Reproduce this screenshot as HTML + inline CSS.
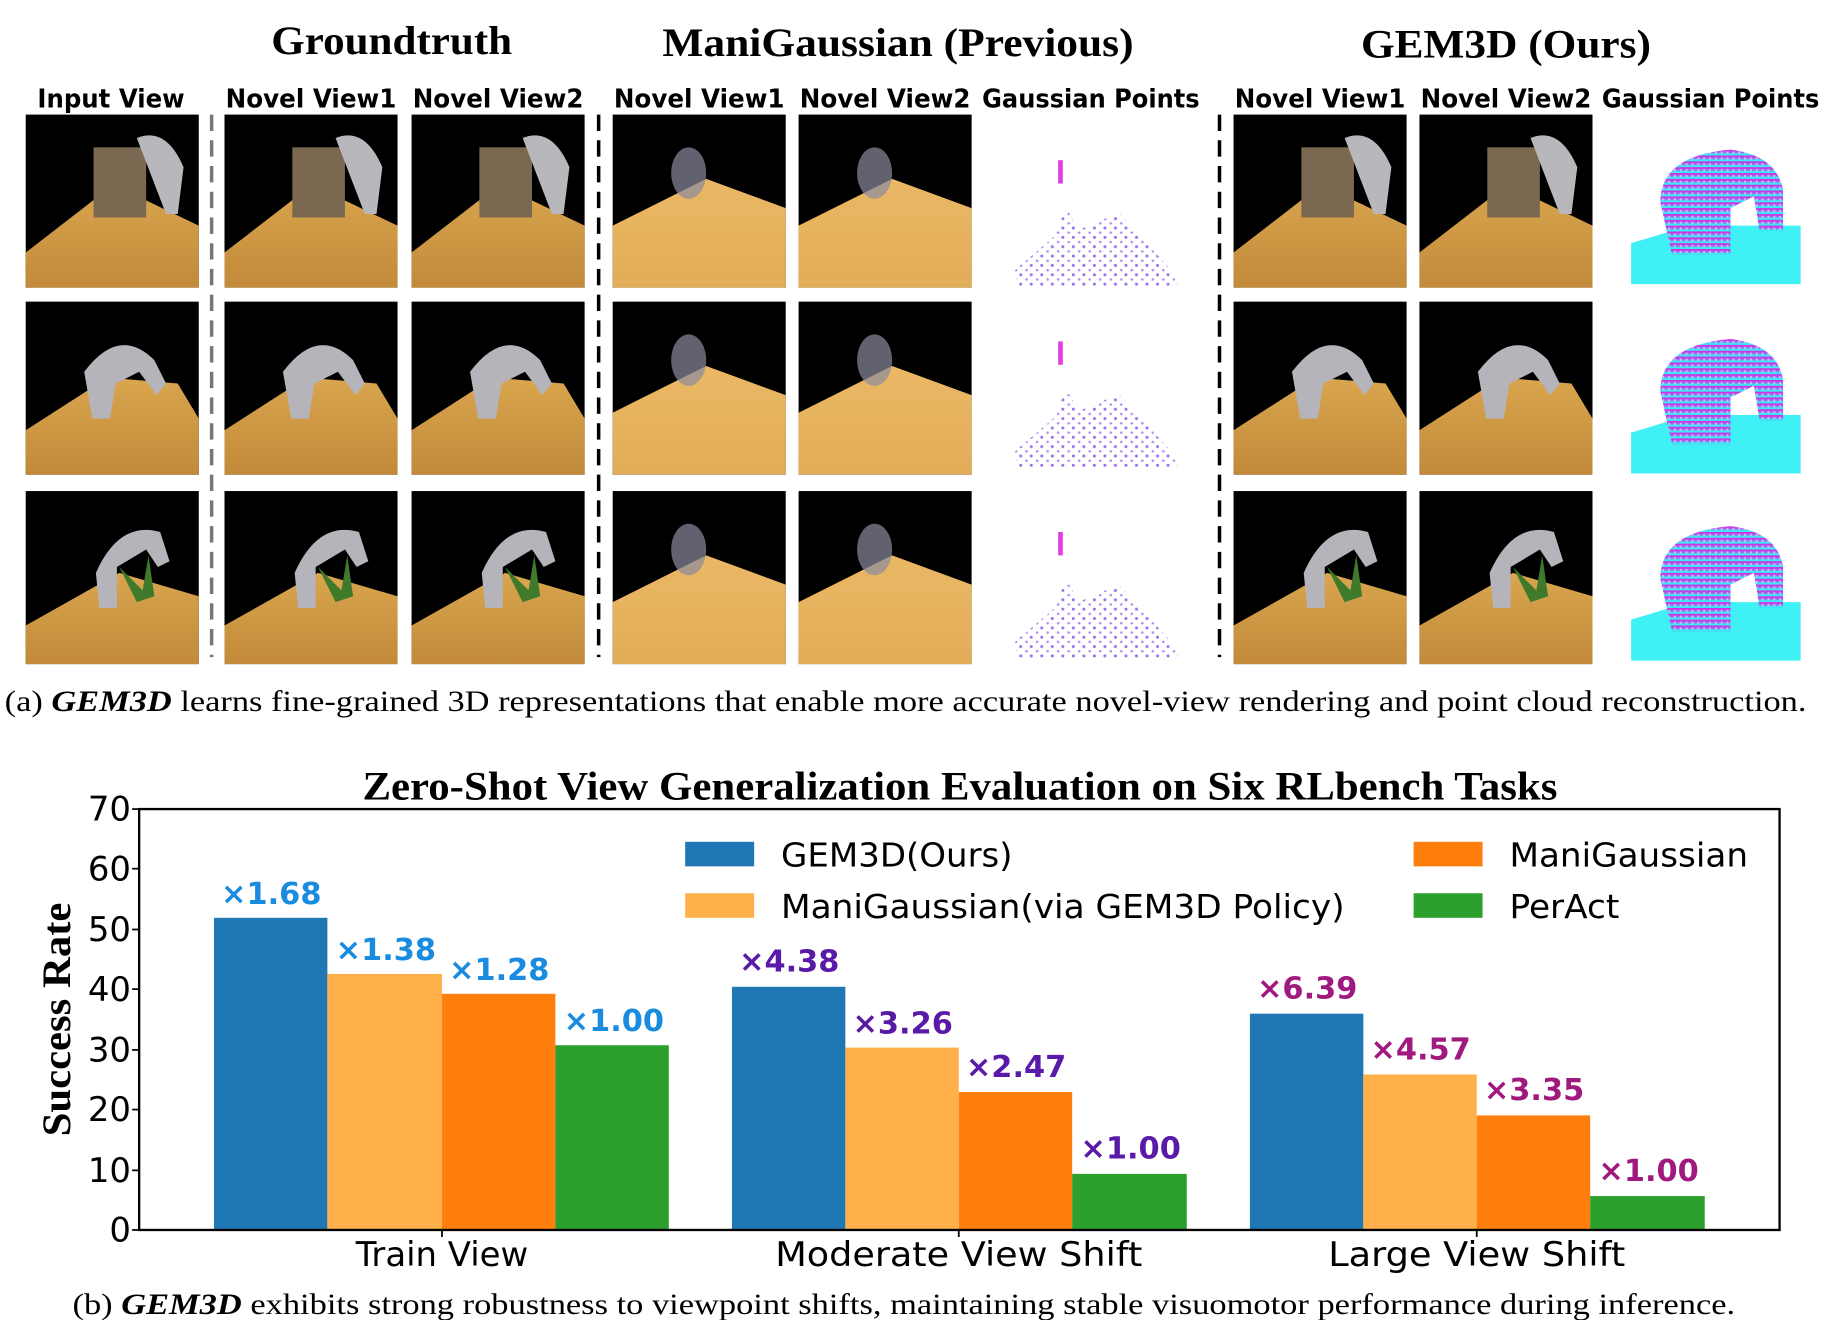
<!DOCTYPE html>
<html><head><meta charset="utf-8"><style>
html,body{margin:0;padding:0;background:#fff;}
svg{display:block;}
.ser{font-family:"Liberation Serif",serif;}
.san{font-family:"DejaVu Sans","Liberation Sans",sans-serif;}
</style></head><body>
<svg width="1824" height="1320" viewBox="0 0 1560 1129" preserveAspectRatio="none" xmlns="http://www.w3.org/2000/svg">
<defs>
<linearGradient id="tan" x1="0" y1="0" x2="0" y2="1"><stop offset="0" stop-color="#d9a54e"/><stop offset="1" stop-color="#c28a3a"/></linearGradient>
<linearGradient id="tanb" x1="0" y1="0" x2="0" y2="1"><stop offset="0" stop-color="#eab865"/><stop offset="1" stop-color="#e2ad58"/></linearGradient>
<linearGradient id="cloud" x1="0" y1="0" x2="0" y2="1"><stop offset="0" stop-color="#e020e0"/><stop offset="0.5" stop-color="#9a6cf0"/><stop offset="0.75" stop-color="#40e8f5"/><stop offset="1" stop-color="#30f0f5"/></linearGradient>
<pattern id="dots" width="9" height="8" patternUnits="userSpaceOnUse"><circle cx="2" cy="2" r="1.3" fill="#9a70ee"/><circle cx="7" cy="6" r="1.1" fill="#b08cf2"/></pattern>
<pattern id="cdots" width="5" height="5" patternUnits="userSpaceOnUse"><rect width="5" height="5" fill="url(#cloud)"/><circle cx="2.5" cy="2.5" r="1" fill="#fff" opacity="0.5"/></pattern>
<g id="gt"><rect width="148" height="148" fill="#000"/><polygon points="0,148 0,118 75,60 148,95 148,148" fill="url(#tan)"/><rect x="58" y="28" width="45" height="60" fill="#7a6850"/><path d="M95,20 q25,-10 40,25 l-5,40 -10,0 z" fill="#b8b8bc"/></g>
<g id="gt2"><rect width="148" height="148" fill="#000"/><polygon points="0,148 0,110 70,65 130,70 148,100 148,148" fill="url(#tan)"/><path d="M50,60 q30,-40 60,-10 l10,20 -8,10 -15,-20 -20,10 -5,30 -15,0 z" fill="#b4b4ba"/></g>
<g id="gt3"><rect width="148" height="148" fill="#000"/><polygon points="0,148 0,115 80,70 148,90 148,148" fill="url(#tan)"/><path d="M60,70 q20,-45 55,-35 l8,25 -10,5 -10,-15 -25,15 0,35 -15,0 z" fill="#b4b4ba"/><path d="M95,95 l-15,-30 20,20 5,-30 5,35 z" fill="#3f7a2a"/></g>
<g id="bl"><rect width="148" height="148" fill="#000"/><polygon points="0,148 0,95 80,55 148,80 148,148" fill="url(#tanb)"/><ellipse cx="65" cy="50" rx="15" ry="22" fill="#8a8aa0" opacity="0.7"/></g>
<g id="pts"><polygon points="5,95 40,65 50,40 60,60 95,45 145,100 145,108 10,108" fill="url(#dots)"/><rect x="43" y="0" width="4" height="20" fill="#e040e0"/></g>
<g id="gc"><polygon points="0,95 50,80 145,80 145,130 0,130" fill="#3ff0f5"/><path d="M25,60 q0,-40 60,-45 q40,5 45,35 l0,35 -20,0 -5,-30 -20,10 0,40 -50,0 z" fill="url(#cdots)"/></g>
</defs>
<rect width="1560" height="1129" fill="#fff"/>
<g class="ser" font-weight="bold" font-size="34" text-anchor="middle" fill="#000" lengthAdjust="spacingAndGlyphs">
<text x="335" y="46" textLength="206" lengthAdjust="spacingAndGlyphs">Groundtruth</text><text x="768" y="48" textLength="403" lengthAdjust="spacingAndGlyphs">ManiGaussian (Previous)</text><text x="1288" y="49" textLength="248" lengthAdjust="spacingAndGlyphs">GEM3D (Ours)</text></g>
<g class="san" font-weight="bold" font-size="22" text-anchor="middle" fill="#000">
<text x="95" y="92" textLength="126" lengthAdjust="spacingAndGlyphs">Input View</text><text x="266" y="92" textLength="146" lengthAdjust="spacingAndGlyphs">Novel View1</text><text x="426" y="92" textLength="146" lengthAdjust="spacingAndGlyphs">Novel View2</text>
<text x="598" y="92" textLength="146" lengthAdjust="spacingAndGlyphs">Novel View1</text><text x="757" y="92" textLength="146" lengthAdjust="spacingAndGlyphs">Novel View2</text><text x="933" y="92" textLength="186" lengthAdjust="spacingAndGlyphs">Gaussian Points</text>
<text x="1129" y="92" textLength="146" lengthAdjust="spacingAndGlyphs">Novel View1</text><text x="1288" y="92" textLength="146" lengthAdjust="spacingAndGlyphs">Novel View2</text><text x="1463" y="92" textLength="186" lengthAdjust="spacingAndGlyphs">Gaussian Points</text></g>
<use href="#gt" x="22" y="98"/><use href="#gt" x="192" y="98"/><use href="#gt" x="352" y="98"/>
<use href="#bl" x="524" y="98"/><use href="#bl" x="683" y="98"/><use href="#pts" x="862" y="137"/>
<use href="#gt" x="1055" y="98"/><use href="#gt" x="1214" y="98"/><use href="#gc" x="1395" y="113"/>
<use href="#gt2" x="22" y="258"/><use href="#gt2" x="192" y="258"/><use href="#gt2" x="352" y="258"/>
<use href="#bl" x="524" y="258"/><use href="#bl" x="683" y="258"/><use href="#pts" x="862" y="292"/>
<use href="#gt2" x="1055" y="258"/><use href="#gt2" x="1214" y="258"/><use href="#gc" x="1395" y="275"/>
<use href="#gt3" x="22" y="420"/><use href="#gt3" x="192" y="420"/><use href="#gt3" x="352" y="420"/>
<use href="#bl" x="524" y="420"/><use href="#bl" x="683" y="420"/><use href="#pts" x="862" y="455"/>
<use href="#gt3" x="1055" y="420"/><use href="#gt3" x="1214" y="420"/><use href="#gc" x="1395" y="435"/>
<g stroke-width="3" stroke-dasharray="14,8"><line x1="181" y1="98" x2="181" y2="562" stroke="#777"/><line x1="512" y1="98" x2="512" y2="562" stroke="#000"/><line x1="1043" y1="98" x2="1043" y2="562" stroke="#000"/></g>
<text class="ser" x="4" y="608" font-size="25" textLength="1541" lengthAdjust="spacingAndGlyphs">(a) <tspan font-weight="bold" font-style="italic">GEM3D</tspan>  learns fine-grained 3D representations that enable more accurate novel-view rendering and point cloud reconstruction.</text>
<text class="ser" x="821" y="684" font-size="34" font-weight="bold" text-anchor="middle" textLength="1022" lengthAdjust="spacingAndGlyphs">Zero-Shot View Generalization Evaluation on Six RLbench Tasks</text>
<g>
<rect x="183" y="785" width="97" height="267" fill="#1f77b4"/><rect x="280" y="833" width="98" height="219" fill="#ffb04a"/><rect x="378" y="850" width="97" height="202" fill="#ff7f0e"/><rect x="475" y="894" width="97" height="158" fill="#2ca02c"/>
<rect x="626" y="844" width="97" height="208" fill="#1f77b4"/><rect x="723" y="896" width="97" height="156" fill="#ffb04a"/><rect x="820" y="934" width="97" height="118" fill="#ff7f0e"/><rect x="917" y="1004" width="98" height="48" fill="#2ca02c"/>
<rect x="1069" y="867" width="97" height="185" fill="#1f77b4"/><rect x="1166" y="919" width="97" height="133" fill="#ffb04a"/><rect x="1263" y="954" width="97" height="98" fill="#ff7f0e"/><rect x="1360" y="1023" width="98" height="29" fill="#2ca02c"/>
</g>
<rect x="119" y="692" width="1403" height="360" fill="none" stroke="#000" stroke-width="2"/>
<g class="san" font-size="29" text-anchor="end">
<text x="112" y="1062">0</text><text x="112" y="1011">10</text><text x="112" y="959">20</text><text x="112" y="908">30</text><text x="112" y="856">40</text><text x="112" y="805">50</text><text x="112" y="753">60</text><text x="112" y="702">70</text></g>
<g stroke="#000" stroke-width="1.5"><line x1="113" y1="1052" x2="119" y2="1052"/><line x1="113" y1="1001" x2="119" y2="1001"/><line x1="113" y1="949" x2="119" y2="949"/><line x1="113" y1="898" x2="119" y2="898"/><line x1="113" y1="846" x2="119" y2="846"/><line x1="113" y1="795" x2="119" y2="795"/><line x1="113" y1="743" x2="119" y2="743"/><line x1="113" y1="692" x2="119" y2="692"/>
<line x1="378" y1="1052" x2="378" y2="1058"/><line x1="820" y1="1052" x2="820" y2="1058"/><line x1="1263" y1="1052" x2="1263" y2="1058"/></g>
<text class="ser" transform="translate(60,872) rotate(-90)" font-size="34" font-weight="bold" text-anchor="middle" textLength="200" lengthAdjust="spacingAndGlyphs">Success Rate</text>
<g class="san" font-size="29" text-anchor="middle"><text x="378" y="1083">Train View</text><text x="820" y="1083" textLength="314" lengthAdjust="spacingAndGlyphs">Moderate View Shift</text><text x="1263" y="1083" textLength="254" lengthAdjust="spacingAndGlyphs">Large View Shift</text></g>
<g class="san" font-size="26" font-weight="bold" text-anchor="middle">
<g fill="#1a8ce0"><text x="232" y="773">×1.68</text><text x="330" y="821">×1.38</text><text x="427" y="838">×1.28</text><text x="525" y="882">×1.00</text></g>
<g fill="#5a1aa8"><text x="675" y="831">×4.38</text><text x="772" y="884">×3.26</text><text x="869" y="921">×2.47</text><text x="967" y="991">×1.00</text></g>
<g fill="#a0197e"><text x="1118" y="854">×6.39</text><text x="1215" y="906">×4.57</text><text x="1312" y="941">×3.35</text><text x="1410" y="1010">×1.00</text></g></g>
<g class="san" font-size="28">
<rect x="586" y="720" width="59" height="21" fill="#1f77b4"/><text x="668" y="741" textLength="198" lengthAdjust="spacingAndGlyphs">GEM3D(Ours)</text>
<rect x="586" y="764" width="59" height="21" fill="#ffb04a"/><text x="668" y="785" textLength="482" lengthAdjust="spacingAndGlyphs">ManiGaussian(via GEM3D Policy)</text>
<rect x="1209" y="720" width="59" height="21" fill="#ff7f0e"/><text x="1291" y="741" textLength="204" lengthAdjust="spacingAndGlyphs">ManiGaussian</text>
<rect x="1209" y="764" width="59" height="21" fill="#2ca02c"/><text x="1291" y="785" textLength="94" lengthAdjust="spacingAndGlyphs">PerAct</text></g>
<text class="ser" x="62" y="1124" font-size="25" textLength="1422" lengthAdjust="spacingAndGlyphs">(b) <tspan font-weight="bold" font-style="italic">GEM3D</tspan>  exhibits strong robustness to viewpoint shifts, maintaining stable visuomotor performance during inference.</text>
</svg>
</body></html>
